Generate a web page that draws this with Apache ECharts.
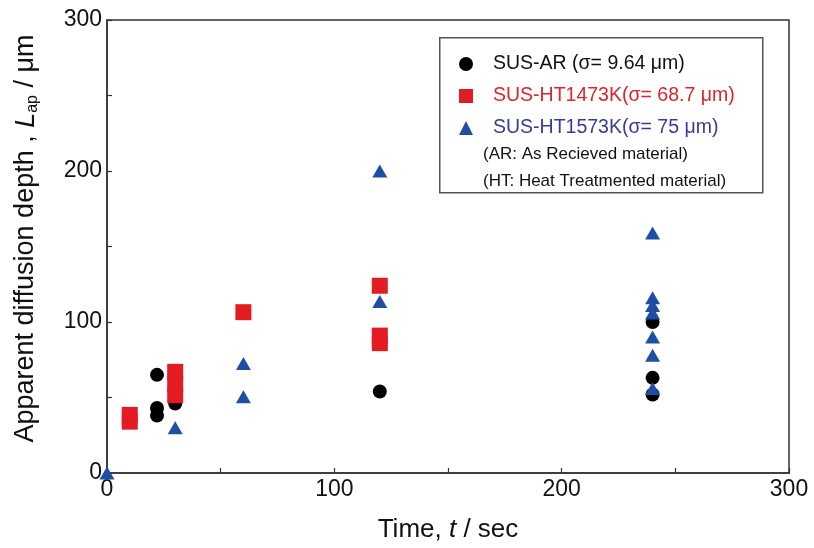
<!DOCTYPE html>
<html>
<head>
<meta charset="utf-8">
<script src="https://cdn.jsdelivr.net/npm/echarts@6/dist/echarts.min.js"></script>
<style>html,body{margin:0;padding:0;background:#fff}#c{width:814px;height:548px}</style>
</head>
<body>
<div id="c"></div>
<script>
// ---- data (time t [sec], apparent diffusion depth L_ap [um]) ----
var seriesNames = ['SUS-AR (σ= 9.64 μm)', 'SUS-HT1473K(σ= 68.7 μm)', 'SUS-HT1573K(σ= 75 μm)'];
var arData = [[22, 65], [22, 43], [22, 38], [30, 46], [120, 54], [240, 100], [240, 63], [240, 52]];
var ht1473Data = [[10, 38.5], [10, 34], [30, 67], [30, 59], [30, 51.5], [60, 106.5], [120, 124], [120, 91], [120, 86]];
var ht1573Data = [[0, 0], [30, 30], [60, 72.5], [60, 50.5], [120, 200], [120, 113.5], [240, 159], [240, 116], [240, 111], [240, 106], [240, 90], [240, 78], [240, 56]];
var xTicks = [0, 100, 200, 300];
var yTicks = [0, 100, 200, 300];
var notes = ['(AR: As Recieved material)', '(HT: Heat Treatmented material)'];

var FONT = '"Liberation Sans", Arial, Helvetica, sans-serif';
var chart = echarts.init(document.getElementById('c'), null, {renderer: 'canvas'});
var axisCommon = {
  type: 'value', min: 0, max: 300, interval: 100,
  axisLine: {show: true, lineStyle: {color: '#333', width: 1.5}},
  axisTick: {show: true, inside: true, length: 5, lineStyle: {color: '#333', width: 1.2}},
  minorTick: {show: true, splitNumber: 2, length: 5, lineStyle: {color: '#333', width: 1.2}},
  splitLine: {show: false},
  axisLabel: {color: '#111', fontSize: 23, fontFamily: FONT, margin: 5,
    formatter: function (v) { return v; }}
};
var option = {
  animation: false,
  backgroundColor: '#fff',
  grid: {left: 107, right: 25, top: 20, bottom: 75, show: true, borderColor: '#333', borderWidth: 1.5, backgroundColor: 'transparent'},
  xAxis: Object.assign({}, axisCommon, {
    name: '{n|Time, }{i|t}{n| / sec}', nameLocation: 'middle', nameGap: 44,
    nameTextStyle: {rich: {
      n: {fontSize: 26, fontFamily: FONT, color: '#111'},
      i: {fontSize: 26, fontFamily: FONT, color: '#111', fontStyle: 'italic'}
    }}
  }),
  yAxis: Object.assign({}, axisCommon, {
    name: '{n|Apparent diffusion depth , }{i|L}{s|ap}{n| / μm}', nameLocation: 'middle', nameGap: 66,
    nameTextStyle: {padding: [0, 0, 0, 16], rich: {
      n: {fontSize: 27, fontFamily: FONT, color: '#111'},
      i: {fontSize: 27, fontFamily: FONT, color: '#111', fontStyle: 'italic'},
      s: {fontSize: 16, fontFamily: FONT, color: '#111', padding: [14, 0, 0, 0]}
    }}
  }),
  legend: {
    orient: 'vertical', left: 454, top: 48, itemWidth: 14, itemHeight: 14, itemGap: 10,
    selectedMode: false,
    formatter: function (n) { return '{sp|}' + n; },
    textStyle: {fontSize: 19.5, fontFamily: FONT, lineHeight: 22, rich: {sp: {width: 15}}},
    data: [
      {name: seriesNames[0], icon: 'circle', textStyle: {color: '#111'}},
      {name: seriesNames[1], icon: 'rect', textStyle: {color: '#d9262c'}},
      {name: seriesNames[2], icon: 'triangle', textStyle: {color: '#363d94'}}
    ]
  },
  graphic: [
    {type: 'rect', left: 439, top: 37, z: 0, shape: {width: 323, height: 155},
      style: {fill: '#fff', stroke: '#555', lineWidth: 1.5}},
    {type: 'text', left: 483, top: 146, z: 5, style: {text: notes[0], fontSize: 17, fontFamily: FONT, fill: '#111'}},
    {type: 'text', left: 483, top: 173, z: 5, style: {text: notes[1], fontSize: 17, fontFamily: FONT, fill: '#111'}}
  ],
  series: [
    {name: seriesNames[0], type: 'scatter', data: arData, symbol: 'circle', symbolSize: 14,
      itemStyle: {color: '#000', opacity: 1}, z: 2},
    {name: seriesNames[1], type: 'scatter', data: ht1473Data, symbol: 'rect', symbolSize: 16,
      itemStyle: {color: '#e31b23', opacity: 1}, z: 3},
    {name: seriesNames[2], type: 'scatter', data: ht1573Data, symbol: 'triangle', symbolSize: [15, 13],
      itemStyle: {color: '#1f4fa3', opacity: 1}, z: 4, clip: false}
  ]
};
chart.setOption(option);
</script>
</body>
</html>
